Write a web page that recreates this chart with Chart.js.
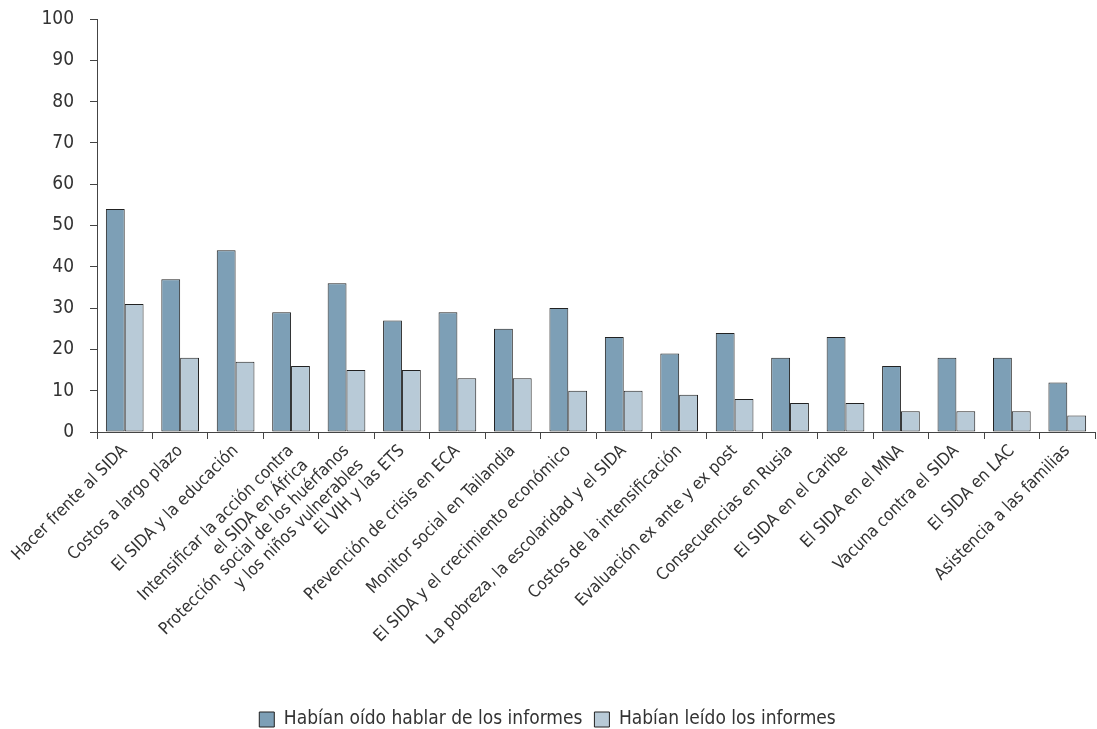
<!DOCTYPE html>
<html>
<head>
<meta charset="utf-8">
<script src="https://cdn.jsdelivr.net/npm/chart.js@4"></script>
<style>
  html, body { margin: 0; padding: 0; background: #fff; }
  #wrap { width: 1097px; height: 729px; }
</style>
</head>
<body>
<div id="wrap"><canvas id="myChart"></canvas></div>
<script>
const categories = [
  "Hacer frente al SIDA",
  "Costos a largo plazo",
  "El SIDA y la educación",
  ["Intensificar la acción contra", "el SIDA en África"],
  ["Protección social de los huérfanos", "y los niños vulnerables"],
  "El VIH y las ETS",
  "Prevención de crisis en ECA",
  "Monitor social en Tailandia",
  "El SIDA y el crecimiento económico",
  "La pobreza, la escolaridad y el SIDA",
  "Costos de la intensificación",
  "Evaluación ex ante y ex post",
  "Consecuencias en Rusia",
  "El SIDA en el Caribe",
  "El SIDA en el MNA",
  "Vacuna contra el SIDA",
  "El SIDA en LAC",
  "Asistencia a las familias"
];

const heardOf = [54, 37, 44, 29, 36, 27, 29, 25, 30, 23, 19, 24, 18, 23, 16, 18, 18, 12];
const readThem = [31, 18, 17, 16, 15, 15, 13, 13, 10, 10, 9, 8, 7, 7, 5, 5, 5, 4];

const seriesNames = ["Habían oído hablar de los informes", "Habían leído los informes"];

const fontFamily = "'DejaVu Sans Condensed', 'Liberation Sans Narrow', sans-serif";
const textColor = "#333333";
const axisColor = "#444444";

const ctx = document.getElementById("myChart").getContext("2d");

const myChart = new Chart(ctx, {
  type: "bar",
  data: {
    labels: categories,
    datasets: [
      {
        label: seriesNames[0],
        data: heardOf,
        backgroundColor: "#7d9fb6",
        borderColor: "#222222",
        borderWidth: 1,
        borderSkipped: false,
      },
      {
        label: seriesNames[1],
        data: readThem,
        backgroundColor: "#b8cad7",
        borderColor: "#222222",
        borderWidth: 1,
        borderSkipped: false,
      },
    ],
  },
  options: {
    responsive: true,
    maintainAspectRatio: false,
    animation: false,
    layout: {
      padding: { left: 0, right: 2, top: 19, bottom: -10 },
    },
    datasets: {
      bar: {
        barPercentage: 1.0,
        categoryPercentage: 0.68,
      },
    },
    scales: {
      x: {
        border: { display: true, color: axisColor, width: 1 },
        grid: {
          offset: true,
          drawOnChartArea: false,
          drawTicks: true,
          tickLength: 7,
          color: axisColor,
        },
        ticks: {
          color: textColor,
          font: { family: fontFamily, size: 17 },
          minRotation: 45,
          maxRotation: 45,
          autoSkip: false,
          padding: 2,
        },
        // leave a wide gap between the slanted labels and the legend
        afterFit: (scale) => { scale.height = 266; },
      },
      y: {
        min: 0,
        max: 100,
        border: { display: true, color: axisColor, width: 1 },
        grid: {
          drawOnChartArea: false,
          drawTicks: true,
          tickLength: 7,
          color: axisColor,
        },
        ticks: {
          stepSize: 10,
          color: textColor,
          font: { family: fontFamily, size: 19 },
          padding: 16,
        },
        afterFit: (scale) => {
          scale.width = 97;
          scale.paddingTop = 0;
        },
      },
    },
    plugins: {
      legend: {
        position: "bottom",
        labels: {
          color: textColor,
          font: { family: fontFamily, size: 19 },
          boxWidth: 15,
          boxHeight: 15,
          padding: 12,
        },
      },
      tooltip: { enabled: false },
    },
  },
});
</script>
</body>
</html>
